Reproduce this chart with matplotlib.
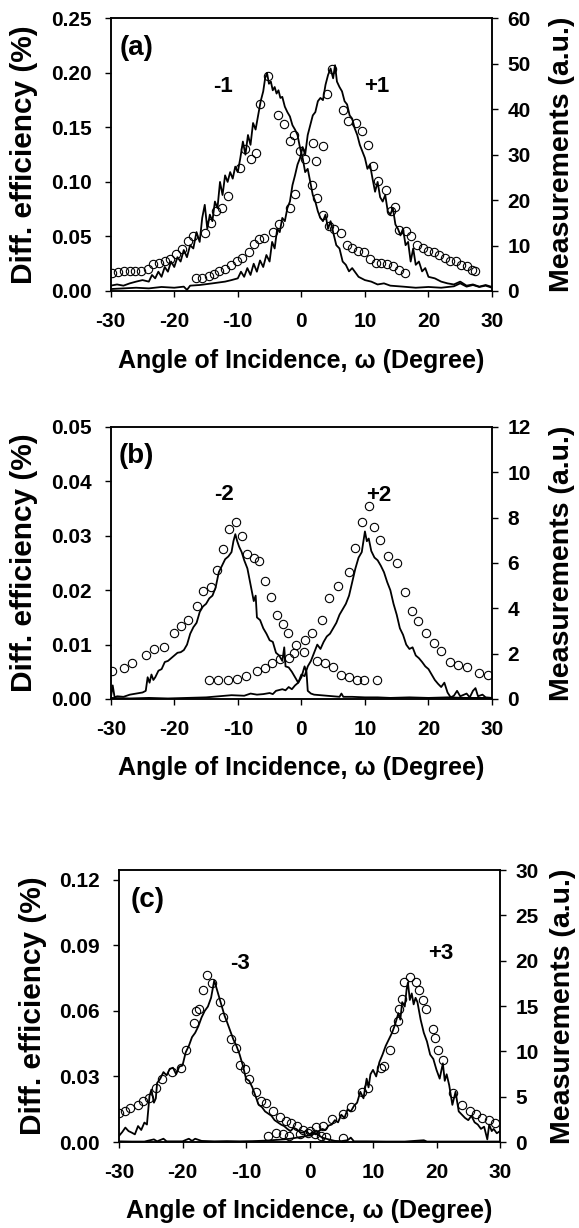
import matplotlib
matplotlib.use("Agg")
import matplotlib.pyplot as plt

plt.rcParams['font.family'] = ['Liberation Sans', 'DejaVu Sans']
plt.rcParams['font.weight'] = 'bold'
plt.rcParams['axes.unicode_minus'] = False

# ---- panel (a): orders -1 / +1 ----
a_m1_x = [-30, -29, -28, -27, -26, -25, -24, -23.5, -23, -22.5, -22, -21.5, -21, -20.5, -20, -19.5, -19, -18.5,
          -18, -17.5, -17, -16.5, -16, -15.6, -15.2, -14.8, -14.4, -14, -13.6, -13.2, -12.8, -12.4, -12, -11.6,
          -11.2, -10.8, -10.4, -10, -9.6, -9.2, -8.8, -8.4, -8, -7.6, -7.2, -6.8, -6.4, -6, -5.7, -5.4, -5.1,
          -4.8, -4.5, -4.2, -3.9, -3.6, -3.3, -3, -2.6, -2.2, -1.8, -1.4, -1, -0.6, -0.2, 0.2, 0.6, 1, 1.4, 1.8,
          2.2, 2.6, 3, 3.4, 3.8, 4.2, 4.6, 5, 5.5, 6, 6.5, 7, 7.5, 8, 9, 10, 11, 12, 13, 14, 16, 18, 20, 22, 24,
          25, 26, 27, 28, 29, 30]
a_m1_y = [0.0049, 0.006, 0.0049, 0.007, 0.0086, 0.010, 0.0086, 0.0147, 0.0116, 0.0177, 0.013, 0.022, 0.0177,
          0.027, 0.022, 0.031, 0.027, 0.0376, 0.031, 0.042, 0.039, 0.054, 0.045, 0.067, 0.079, 0.057, 0.070,
          0.064, 0.082, 0.076, 0.100, 0.088, 0.106, 0.100, 0.109, 0.103, 0.114, 0.109, 0.122, 0.137, 0.125,
          0.143, 0.134, 0.154, 0.148, 0.161, 0.174, 0.183, 0.195, 0.200, 0.190, 0.192, 0.184, 0.187, 0.181,
          0.184, 0.177, 0.178, 0.169, 0.164, 0.160, 0.152, 0.148, 0.143, 0.131, 0.122, 0.109, 0.112, 0.100,
          0.088, 0.082, 0.073, 0.067, 0.064, 0.070, 0.057, 0.064, 0.054, 0.042, 0.039, 0.027, 0.024, 0.018,
          0.021, 0.013, 0.010, 0.0086, 0.006, 0.007, 0.0049, 0.004, 0.003, 0.0037, 0.003, 0.0043, 0.007, 0.004,
          0.0055, 0.0037, 0.0049, 0.003]
a_p1_x = [-30, -28, -26, -24, -22, -20, -18.5, -18, -17.5, -16, -14, -12, -11, -10, -9.5, -9, -8.5, -8, -7.5,
          -7, -6.5, -6, -5.5, -5, -4.6, -4.2, -3.8, -3.4, -3, -2.6, -2.2, -1.8, -1.4, -1, -0.6, -0.2, 0.2, 0.6,
          1, 1.4, 1.8, 2.2, 2.6, 3, 3.4, 3.8, 4.2, 4.6, 5, 5.3, 5.6, 6, 6.4, 6.8, 7.2, 7.6, 8, 8.4, 8.8, 9.2,
          9.6, 10, 10.4, 10.8, 11.2, 11.6, 12, 12.4, 12.8, 13.2, 13.6, 14, 14.4, 14.8, 15.2, 15.6, 16, 16.4,
          16.8, 17.2, 17.6, 18, 18.5, 19, 19.5, 20, 21, 22, 23, 24, 25, 26, 27, 28, 29, 30]
a_p1_y = [0.0018, 0.0024, 0.003, 0.0024, 0.0037, 0.003, 0.004, 0.001, 0.0049, 0.0055, 0.007, 0.0086, 0.010,
          0.0116, 0.0177, 0.013, 0.021, 0.0147, 0.025, 0.0177, 0.028, 0.022, 0.033, 0.027, 0.045, 0.039, 0.057,
          0.054, 0.067, 0.064, 0.076, 0.082, 0.097, 0.106, 0.116, 0.122, 0.132, 0.125, 0.143, 0.152, 0.161,
          0.164, 0.174, 0.177, 0.175, 0.189, 0.198, 0.204, 0.195, 0.207, 0.192, 0.187, 0.183, 0.174, 0.171,
          0.161, 0.158, 0.149, 0.143, 0.134, 0.128, 0.122, 0.112, 0.116, 0.103, 0.091, 0.100, 0.086, 0.082,
          0.088, 0.073, 0.070, 0.076, 0.061, 0.057, 0.051, 0.057, 0.042, 0.045, 0.027, 0.039, 0.024, 0.027,
          0.018, 0.021, 0.013, 0.0116, 0.0086, 0.007, 0.006, 0.0086, 0.0049, 0.006, 0.004, 0.0055, 0.0037]
a_m1_meas_x = [-29.8, -28.8, -27.9, -27.0, -26.1, -25.2, -24.2, -23.3, -22.4, -21.5, -20.6, -19.7, -18.8, -17.9,
               -17.0, -15.2, -14.2, -13.4, -12.5, -11.6, -9.6, -8.8, -7.9, -7.1, -6.5, -5.3, -3.7, -2.7, -1.8,
               -1.1, -0.2, 1.6, 2.5, 3.4, 4.3, 5.1, 6.3, 7.2, 8.0, 8.9, 9.8, 10.8, 11.7, 12.6, 13.5, 14.4, 15.4,
               16.3]
a_m1_meas = [3.9, 4.1, 4.3, 4.4, 4.5, 4.5, 4.8, 5.9, 6.1, 6.6, 7.0, 8.2, 9.2, 10.9, 12.0, 12.7, 14.9, 17.6, 18.3,
             20.9, 27.0, 31.2, 29.0, 30.4, 41.1, 47.4, 38.7, 36.7, 33.0, 34.3, 30.7, 23.3, 20.5, 16.7, 14.4, 13.7,
             12.7, 10.1, 9.5, 8.8, 8.5, 7.0, 6.2, 6.1, 5.9, 5.4, 4.6, 3.9]
a_p1_meas_x = [-16.5, -15.6, -14.6, -13.7, -12.9, -12.0, -11.1, -10.2, -9.3, -8.2, -7.4, -6.6, -5.8, -4.5, -3.5,
               -1.8, -0.95, 0.6, 1.8, 2.3, 3.4, 4.05, 4.8, 6.6, 7.3, 8.6, 9.5, 10.5, 11.2, 12.1, 13.3, 14.1, 14.8,
               15.4, 16.4, 17.2, 18.2, 19.1, 20.0, 20.9, 21.7, 22.6, 23.4, 24.3, 25.1, 26.0, 26.8, 27.4]
a_p1_meas = [2.8, 2.8, 3.2, 3.7, 4.3, 4.8, 5.7, 6.5, 7.3, 8.5, 10.4, 11.4, 11.7, 12.9, 14.7, 18.3, 21.3, 29.0,
             32.5, 28.6, 31.9, 43.4, 48.8, 39.8, 37.4, 36.9, 35.3, 32.1, 27.6, 24.1, 22.2, 17.5, 18.5, 13.4, 13.2,
             12.0, 10.1, 9.4, 8.8, 8.5, 7.9, 7.2, 6.7, 6.5, 5.7, 5.4, 4.6, 4.4]

# ---- panel (b): orders -2 / +2 ----
b_m2_x = [-30, -29.7, -29.4, -29, -28, -27, -26, -25, -24.5, -24.2, -23.9, -23.6, -23.3, -23, -22.5, -22, -21.5,
          -21, -20.5, -20, -19.5, -19, -18.5, -18, -17.5, -17, -16.5, -16, -15.5, -15, -14.5, -14, -13.5, -13,
          -12.5, -12, -11.5, -11, -10.7, -10.4, -10.1, -9.8, -9.4, -9, -8.5, -8, -7.5, -7.2, -7, -6.5, -6, -5.5,
          -5, -4.5, -4, -3.5, -3, -2.7, -2.5, -2, -1.5, -1, -0.5, 0, 0.5, 0.8, 1, 1.5, 2, 3, 4, 5, 6, 6.3, 6.6,
          8, 10, 12, 14, 17, 20, 23, 26, 30]
b_m2_y = [0.0002, 0.0025, 0.0003, 0.0005, 0.0004, 0.0008, 0.0010, 0.0012, 0.0015, 0.0040, 0.0030, 0.0045, 0.0035,
          0.0040, 0.0052, 0.0055, 0.0068, 0.0070, 0.0075, 0.0080, 0.0085, 0.0086, 0.0090, 0.0100, 0.0120, 0.0132,
          0.0140, 0.0160, 0.0170, 0.0175, 0.0185, 0.0190, 0.0205, 0.0233, 0.0245, 0.0257, 0.0262, 0.0270, 0.0290,
          0.0303, 0.0290, 0.0280, 0.0270, 0.0255, 0.0240, 0.0210, 0.0180, 0.0190, 0.0150, 0.0145, 0.0130, 0.0120,
          0.0108, 0.0105, 0.0085, 0.0080, 0.0070, 0.0095, 0.0060, 0.0058, 0.0050, 0.0040, 0.0030, 0.0040, 0.0060,
          0.0050, 0.0015, 0.0010, 0.0008, 0.0007, 0.0006, 0.0005, 0.0004, 0.0010, 0.0004, 0.0004, 0.0003, 0.0003,
          0.0002, 0.0003, 0.0002, 0.0003, 0.0002, 0.0002]
b_p2_x = [-30, -27, -24, -21, -18, -15, -13, -11, -9, -8, -7, -6, -5, -4.5, -4, -3, -2.5, -2, -1.5, -1, -0.5, 0,
          0.5, 1, 1.5, 2, 2.5, 3, 3.5, 4, 4.5, 5, 5.5, 6, 6.5, 7, 7.5, 8, 8.5, 9, 9.5, 10, 10.3, 10.6, 11, 11.5,
          12, 12.5, 13, 13.5, 14, 14.5, 15, 15.5, 16, 16.5, 17, 17.5, 18, 18.5, 19, 19.5, 20, 20.5, 21, 21.5,
          22, 22.5, 23, 23.5, 24, 24.5, 25, 26, 26.5, 27, 27.4, 27.8, 28.5, 29, 30]
b_p2_y = [0.0002, 0.0001, 0.0002, 0.0001, 0.0002, 0.0003, 0.0005, 0.0007, 0.0006, 0.0010, 0.0008, 0.0009, 0.0011,
          0.0009, 0.0015, 0.0018, 0.0016, 0.0022, 0.0018, 0.0025, 0.0030, 0.0045, 0.0042, 0.0060, 0.0070, 0.0085,
          0.0100, 0.0092, 0.0105, 0.0115, 0.0120, 0.0130, 0.0140, 0.0155, 0.0165, 0.0175, 0.0190, 0.0215, 0.0240,
          0.0260, 0.0270, 0.0308, 0.0290, 0.0295, 0.0272, 0.0260, 0.0255, 0.0245, 0.0233, 0.0215, 0.0200, 0.0175,
          0.0155, 0.0130, 0.0118, 0.0100, 0.0092, 0.0095, 0.0080, 0.0075, 0.0068, 0.0060, 0.0055, 0.0045, 0.0035,
          0.0028, 0.0022, 0.0030, 0.0012, 0.0003, 0.0006, 0.0015, 0.0005, 0.0010, 0.0003, 0.0015, 0.0020, 0.0005,
          0.0008, 0.0003, 0.0002]
b_m2_meas_x = [-29.8, -27.9, -26.6, -24.4, -23.2, -21.7, -20.1, -19.0, -17.9, -16.5, -15.5, -14.2, -13.3, -12.3,
               -11.4, -10.3, -9.3, -8.5, -7.5, -6.6, -5.7, -4.8, -3.8, -2.9, -2.1, -0.8, 0.4, 2.4, 3.7, 5.0, 6.2,
               7.5, 8.7, 9.9, 11.9]
b_m2_meas = [1.25, 1.35, 1.6, 1.96, 2.2, 2.3, 2.9, 3.2, 3.5, 4.1, 4.75, 4.95, 5.7, 6.6, 7.5, 7.8, 7.2, 6.4, 6.2,
             6.1, 5.2, 4.5, 3.7, 3.3, 2.9, 2.4, 2.07, 1.69, 1.57, 1.42, 1.06, 0.96, 0.84, 0.84, 0.84]
b_p2_meas_x = [-14.5, -13.2, -11.5, -10.1, -8.7, -7.0, -5.8, -4.6, -3.3, -2.0, -1.2, 0.5, 1.6, 3.2, 4.3, 5.7, 7.5,
               8.4, 9.6, 10.6, 11.5, 12.4, 13.7, 15.0, 16.3, 17.4, 18.4, 19.6, 20.8, 21.9, 23.4, 24.7, 26.1, 28.0,
               29.3]
b_p2_meas = [0.85, 0.85, 0.85, 0.88, 1.0, 1.25, 1.35, 1.6, 1.75, 1.8, 2.05, 2.6, 2.9, 3.5, 4.45, 5.0, 5.6, 6.65,
             7.8, 8.5, 7.6, 7.0, 6.3, 6.0, 4.7, 3.9, 3.45, 2.9, 2.45, 2.1, 1.65, 1.5, 1.4, 1.15, 1.05]

# ---- panel (c): orders -3 / +3 ----
c_m3_x = [-30, -29.5, -29, -28.5, -28, -27.5, -27, -26.5, -26, -25.6, -25.2, -24.9, -24.5, -24.2, -24, -23.5, -23,
          -22.5, -22, -21.5, -21, -20.5, -20, -19.5, -19, -18.5, -18, -17.5, -17, -16.5, -16, -15.5, -15, -14.6,
          -14.2, -13.8, -13.4, -13, -12.5, -12, -11.5, -11, -10.5, -10, -9.5, -9, -8.5, -8, -7.5, -7, -6.5, -6,
          -5.5, -5, -4.5, -4, -3.5, -3, -2.5, -2, -1.5, -1, -0.5, 0, 0.5, 1, 1.5, 2, 3, 4, 5, 6, 6.5, 7, 9, 12,
          15, 18, 18.5, 21, 24, 27, 30]
c_m3_y = [0.0028, 0.0045, 0.0066, 0.0050, 0.0043, 0.0035, 0.0073, 0.0055, 0.0089, 0.0080, 0.0210, 0.0240, 0.0180,
          0.0200, 0.0270, 0.0290, 0.0320, 0.0305, 0.0335, 0.0340, 0.0310, 0.0345, 0.0350, 0.0410, 0.0440, 0.0480,
          0.0500, 0.0530, 0.0570, 0.0600, 0.0620, 0.0660, 0.0740, 0.0700, 0.0660, 0.0620, 0.0580, 0.0550, 0.0510,
          0.0470, 0.0440, 0.0400, 0.0350, 0.0290, 0.0280, 0.0250, 0.0210, 0.0170, 0.0160, 0.0140, 0.0130, 0.0120,
          0.0100, 0.0090, 0.0080, 0.0073, 0.0060, 0.0050, 0.0065, 0.0058, 0.0045, 0.0043, 0.0050, 0.0035, 0.0045,
          0.0040, 0.0030, 0.0020, 0.0012, 0.0005, 0.0004, 0.0008, 0.0020, 0.0003, 0.0003, 0.0002, 0.0002, 0.0008,
          0.0002, 0.0002, 0.0002, 0.0002, 0.0002]
c_p3_x = [-30, -28, -26, -24.5, -24, -23, -22.5, -20, -19, -18.5, -18, -17, -15, -13, -11, -9, -7, -6, -5, -4, -3,
          -2, -1, 0, 0.5, 1, 1.5, 2, 2.5, 3, 3.5, 4, 4.5, 5, 5.5, 6, 6.5, 7, 7.5, 8, 8.5, 9, 9.3, 9.6, 10, 10.5,
          11, 11.5, 12, 12.5, 13, 13.5, 14, 14.3, 14.6, 15, 15.3, 15.5, 15.8, 16.1, 16.4, 16.7, 17, 17.5, 18,
          18.5, 19, 19.5, 20, 20.5, 21, 21.3, 21.6, 22, 22.5, 23, 23.5, 24, 24.5, 25, 25.5, 26, 26.5, 27, 27.5,
          28, 28.3, 28.7, 29, 29.5, 30]
c_p3_y = [0.0003, 0.0002, 0.0002, 0.0012, 0.0003, 0.0015, 0.0003, 0.0003, 0.0015, 0.0005, 0.0015, 0.0005, 0.0003,
          0.0004, 0.0003, 0.0004, 0.0006, 0.0008, 0.0010, 0.0012, 0.0015, 0.0020, 0.0025, 0.0030, 0.0040, 0.0035,
          0.0050, 0.0060, 0.0055, 0.0075, 0.0080, 0.0100, 0.0090, 0.0125, 0.0110, 0.0150, 0.0140, 0.0165, 0.0180,
          0.0230, 0.0200, 0.0290, 0.0250, 0.0310, 0.0330, 0.0300, 0.0365, 0.0400, 0.0440, 0.0470, 0.0500, 0.0540,
          0.0590, 0.0560, 0.0640, 0.0620, 0.0700, 0.0730, 0.0650, 0.0680, 0.0630, 0.0660, 0.0640, 0.0560, 0.0500,
          0.0460, 0.0400, 0.0380, 0.0330, 0.0290, 0.0360, 0.0280, 0.0310, 0.0260, 0.0170, 0.0230, 0.0140, 0.0125,
          0.0110, 0.0100, 0.0120, 0.0090, 0.0080, 0.0060, 0.0070, 0.0012, 0.0080, 0.0050, 0.0060, 0.0040, 0.0050]
c_m3_meas_x = [-30.0, -29.1, -28.3, -27.0, -26.2, -25.3, -24.2, -23.3, -21.6, -20.3, -19.5, -18.2, -17.9, -17.4,
               -16.8, -16.2, -15.4, -14.1, -13.7, -12.4, -11.6, -10.9, -10.1, -9.5, -8.4, -7.6, -6.8, -5.8, -4.7,
               -3.7, -2.9, -1.9, -1.05, -0.2, 0.8, 1.8, 2.6, 5.3]
c_m3_meas = [3.2, 3.4, 3.7, 4.1, 4.5, 4.8, 6.0, 6.9, 7.7, 8.2, 10.1, 13.1, 14.4, 14.7, 16.8, 18.4, 17.5, 15.4,
             13.8, 11.4, 10.4, 8.5, 8.0, 7.0, 5.5, 4.5, 4.3, 3.4, 2.8, 2.3, 2.1, 1.8, 1.3, 1.0, 0.85, 0.7, 0.5,
             0.4]
c_p3_meas_x = [-6.5, -5.3, -4.2, -3.2, -1.5, 0.0, 1.05, 2.1, 3.5, 5.3, 6.6, 8.2, 9.2, 11.3, 11.8, 12.6, 13.3, 13.9,
               14.1, 14.6, 14.9, 15.8, 16.7, 17.2, 17.9, 18.4, 19.4, 19.7, 20.3, 21.1, 22.6, 24.0, 25.3, 26.2, 27.1,
               28.2, 29.2]
c_p3_meas = [0.66, 0.96, 0.85, 0.66, 0.9, 1.2, 1.7, 1.8, 2.5, 3.1, 3.9, 5.5, 6.0, 8.2, 8.4, 10.1, 12.5, 13.4,
             14.7, 15.8, 17.6, 18.2, 17.6, 16.8, 15.7, 14.7, 12.5, 11.5, 10.1, 9.0, 5.4, 4.1, 3.4, 3.1, 2.7, 2.4,
             2.1]

angle_ticks = [-30, -20, -10, 0, 10, 20, 30]
XLABEL = 'Angle of Incidence, \u03c9 (Degree)'
YLABEL_L = 'Diff. efficiency (%)'
YLABEL_R = 'Measurements (a.u.)'

W, H = 579, 1228


class PlotFormat():
    tick_size = 15
    xlabel_size = 18
    ylabel_l_size = 21.5
    ylabel_r_size = 20.5
    tag_size = 20
    order_size = 16
    linewidth = 1.3
    markersize = 6


def plot_panel(fig, box, lines, meas, eff_max, eff_ticks, meas_max, meas_ticks, tag, orders, rlabel_x=1.184):
    left, top, right, bottom = box
    ax1 = fig.add_axes([left / W, 1 - bottom / H, (right - left) / W, (bottom - top) / H])
    for x, y in lines:
        ax1.plot(x, y, 'k-', lw=PlotFormat.linewidth)
    ax1.set_xlim(-30, 30)
    ax1.set_ylim(0, eff_max)
    ax1.set_xticks(angle_ticks)
    ax1.set_yticks(eff_ticks)
    ax1.set_yticklabels(['{:.2f}'.format(t) for t in eff_ticks])
    ax1.tick_params(axis='x', direction='out', length=4, width=1, pad=11, labelsize=PlotFormat.tick_size)
    ax1.tick_params(axis='y', direction='out', length=4, width=1, pad=9.5, labelsize=PlotFormat.tick_size)
    ax1.set_xlabel(XLABEL, fontsize=PlotFormat.xlabel_size, fontweight='bold')
    ax1.xaxis.set_label_coords(0.5, -0.255)
    ax1.xaxis.label.set_va('center')
    ax1.set_ylabel(YLABEL_L, fontsize=PlotFormat.ylabel_l_size, fontweight='bold')
    ax1.yaxis.set_label_coords(-0.227, 0.5)
    ax1.yaxis.label.set_va('center')

    ax2 = ax1.twinx()
    for x, v in meas:
        ax2.plot(x, v, 'o', mfc='none', mec='k', mew=0.8, ms=PlotFormat.markersize, ls='none')
    ax2.set_ylim(0, meas_max)
    ax2.set_yticks(meas_ticks)
    ax2.tick_params(axis='y', direction='out', length=4, width=1, pad=7, labelsize=PlotFormat.tick_size)
    ax2.set_ylabel(YLABEL_R, fontsize=PlotFormat.ylabel_r_size, fontweight='bold')
    ax2.yaxis.set_label_coords(rlabel_x, 0.5)
    ax2.yaxis.label.set_va('center')

    for ax in (ax1, ax2):
        for sp in ax.spines.values():
            sp.set_linewidth(1.1)

    ax1.text(tag[1], tag[2], tag[0], transform=ax1.transAxes, ha='center', va='center',
             fontsize=PlotFormat.tag_size, fontweight='bold')
    for txt, fx, fy in orders:
        ax1.text(fx, fy, txt, transform=ax1.transAxes, ha='center', va='center',
                 fontsize=PlotFormat.order_size, fontweight='bold')
    return ax1, ax2


fig = plt.figure(figsize=(W / 100, H / 100), dpi=100)

plot_panel(fig, (110.7, 18.3, 492, 291),
           [(a_m1_x, a_m1_y), (a_p1_x, a_p1_y)],
           [(a_m1_meas_x, a_m1_meas), (a_p1_meas_x, a_p1_meas)],
           0.25, [0, 0.05, 0.10, 0.15, 0.20, 0.25], 60, [0, 10, 20, 30, 40, 50, 60],
           ('(a)', 0.068, 0.89), [('-1', 0.295, 0.749), ('+1', 0.698, 0.749)])

plot_panel(fig, (110.8, 427, 492, 699),
           [(b_m2_x, b_m2_y), (b_p2_x, b_p2_y)],
           [(b_m2_meas_x, b_m2_meas), (b_p2_meas_x, b_p2_meas)],
           0.05, [0, 0.01, 0.02, 0.03, 0.04, 0.05], 12, [0, 2, 4, 6, 8, 10, 12],
           ('(b)', 0.068, 0.892), [('-2', 0.297, 0.751), ('+2', 0.702, 0.749)])

plot_panel(fig, (119, 870, 500, 1142),
           [(c_m3_x, c_m3_y), (c_p3_x, c_p3_y)],
           [(c_m3_meas_x, c_m3_meas), (c_p3_meas_x, c_p3_meas)],
           0.1245, [0, 0.03, 0.06, 0.09, 0.12], 30, [0, 5, 10, 15, 20, 25, 30],
           ('(c)', 0.074, 0.89), [('-3', 0.318, 0.657), ('+3', 0.845, 0.694)], rlabel_x=1.165)

plt.savefig('out.png', dpi=100)
plt.close()
